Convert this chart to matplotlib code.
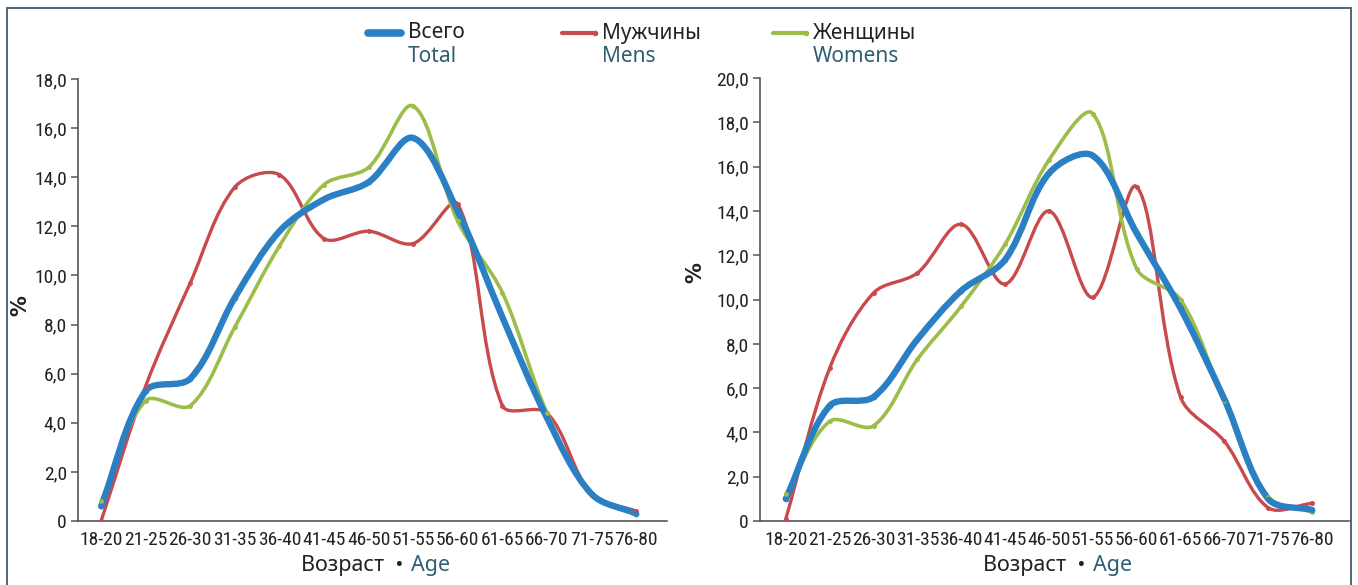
import numpy as np
import matplotlib
matplotlib.use("Agg")
import matplotlib.pyplot as plt
from matplotlib import font_manager
from matplotlib.path import Path
from matplotlib.patches import PathPatch, Rectangle
from matplotlib.lines import Line2D
from matplotlib.ticker import FuncFormatter

# --- data ---
age_groups = ["18-20", "21-25", "26-30", "31-35", "36-40", "41-45", "46-50",
              "51-55", "56-60", "61-65", "66-70", "71-75", "76-80"]

left_total = [0.6, 5.3, 5.8, 9.1, 11.8, 13.1, 13.8, 15.6, 12.6, 8.3, 4.2, 1.1, 0.3]
left_mens = [0.0, 5.5, 9.7, 13.6, 14.1, 11.5, 11.8, 11.3, 12.9, 4.7, 4.4, 1.1, 0.4]
left_womens = [0.8, 4.9, 4.7, 7.9, 11.2, 13.7, 14.4, 16.9, 12.2, 9.3, 4.4, 1.1, 0.3]

right_total = [1.0, 5.2, 5.6, 8.2, 10.4, 11.8, 15.7, 16.5, 13.0, 9.6, 5.5, 1.0, 0.5]
right_mens = [0.1, 6.9, 10.3, 11.2, 13.4, 10.7, 14.0, 10.1, 15.1, 5.6, 3.6, 0.6, 0.8]
right_womens = [1.2, 4.5, 4.3, 7.3, 9.7, 12.5, 16.3, 18.4, 11.4, 10.0, 5.4, 1.1, 0.4]

BLUE = "#2b80c4"
RED = "#c84a4c"
GREEN = "#9cbd48"
TEAL = "#2f5d72"


def pick_font(cands):
    for c in cands:
        try:
            font_manager.findfont(font_manager.FontProperties(family=c),
                                  fallback_to_default=False)
            return c
        except Exception:
            pass
    return None


NARROW = pick_font(['Liberation Sans Narrow', 'DejaVu Sans Condensed',
                    'Roboto Condensed', 'Noto Sans Condensed', 'Open Sans Condensed'])
if NARROW:
    TICK_FAM, XT_SIZE, YT_SIZE = NARROW, 14, 14
else:
    TICK_FAM, XT_SIZE, YT_SIZE = 'Liberation Sans', 11.5, 13
TEXT_FAM = ['Noto Sans', 'DejaVu Sans']
plt.rcParams['font.family'] = [TICK_FAM, 'DejaVu Sans']


def smooth_path(x, y, sx, sy, k=1.0 / 3):
    # spline through the points, tangents scaled by neighbouring chord lengths
    # (done in pixel space so steep and flat segments don't overshoot)
    P = np.column_stack([np.asarray(x, float) * sx, np.asarray(y, float) * sy])
    n = len(P)
    L = np.hypot(*(P[1:] - P[:-1]).T)
    D = np.zeros_like(P)
    D[0] = P[1] - P[0]
    D[-1] = P[-1] - P[-2]
    D[1:-1] = P[2:] - P[:-2]
    verts = [P[0]]
    codes = [Path.MOVETO]
    for i in range(n - 1):
        fa = L[i] / (L[i - 1] + L[i]) if i > 0 else 1.0
        fb = L[i] / (L[i] + L[i + 1]) if i + 1 < n - 1 else 1.0
        c1 = P[i] + D[i] * fa * k
        c2 = P[i + 1] - D[i + 1] * fb * k
        verts += [c1, c2, P[i + 1]]
        codes += [Path.CURVE4] * 3
    verts = np.array(verts) / np.array([sx, sy])
    return Path(verts, codes)


def draw_series(ax, y, color, lw, ms):
    fig = ax.figure
    pos = ax.get_position()
    wpx = pos.width * fig.get_figwidth() * fig.dpi
    hpx = pos.height * fig.get_figheight() * fig.dpi
    x0, x1 = ax.get_xlim()
    y0, y1 = ax.get_ylim()
    sx, sy = wpx / (x1 - x0), hpx / (y1 - y0)
    x = np.arange(len(y))
    ax.add_patch(PathPatch(smooth_path(x, y, sx, sy), facecolor='none', edgecolor=color,
                           lw=lw, capstyle='round', joinstyle='round', zorder=3))
    ax.plot(x, y, linestyle='none', marker='o', ms=ms, color=color, zorder=4)


def fmt(v, pos):
    if abs(v) < 1e-9:
        return "0"
    return f"{v:.1f}".replace(".", ",")


def setup_axes(ax, ymax, xlim, ylab_pos):
    ax.set_xlim(*xlim)
    ax.set_ylim(0, ymax)
    ax.set_yticks(np.arange(0, ymax + 0.1, 2))
    ax.yaxis.set_major_formatter(FuncFormatter(fmt))
    ax.set_xticks(np.arange(len(age_groups)))
    ax.set_xticklabels(age_groups)
    for s in ['top', 'right']:
        ax.spines[s].set_visible(False)
    for s in ['left', 'bottom']:
        ax.spines[s].set_color('#555555')
        ax.spines[s].set_linewidth(1.2)
    ax.tick_params(axis='y', length=5, width=1.1, color='#555555', labelsize=YT_SIZE,
                   labelcolor='#222222', pad=3)
    ax.tick_params(axis='x', length=0, labelsize=XT_SIZE, labelcolor='#222222', pad=7)
    ax.set_ylabel('%', fontsize=15, fontweight='bold', color='#222222',
                  family=['DejaVu Sans'])
    ax.yaxis.set_label_coords(*ylab_pos)


def age_label(ax):
    t1 = ax.text(0.553, -0.1, 'Возраст  •', transform=ax.transAxes,
                 ha='right', va='center', fontsize=15.5, color='#222222',
                 family=TEXT_FAM)
    ax.annotate('Age', xy=(1, 0), xycoords=t1, xytext=(5, 0),
                textcoords='offset points', ha='left', va='bottom',
                fontsize=15.5, color=TEAL, family=TEXT_FAM)


fig = plt.figure(figsize=(13.58, 5.85), dpi=100)

ax1 = fig.add_axes([0.0574, 0.1094, 0.4337, 0.7556])
setup_axes(ax1, 18, (-0.52, 12.69), (-0.08, 0.487))
draw_series(ax1, left_mens, RED, 2.4, 2.5)
draw_series(ax1, left_womens, GREEN, 2.6, 2.5)
draw_series(ax1, left_total, BLUE, 4.6, 3)
age_label(ax1)

ax2 = fig.add_axes([0.5596, 0.1094, 0.4337, 0.757])
setup_axes(ax2, 20, (-0.59, 12.84), (-0.093, 0.56))
draw_series(ax2, right_mens, RED, 2.4, 2.5)
draw_series(ax2, right_womens, GREEN, 2.6, 2.5)
draw_series(ax2, right_total, BLUE, 4.6, 3)
age_label(ax2)

# legend drawn in figure coords
W, H = 1358.0, 585.0
legend_items = [
    (368, BLUE, 5.5, 'Всего', 'Total'),
    (562, RED, 3.0, 'Мужчины', 'Mens'),
    (773, GREEN, 3.0, 'Женщины', 'Womens'),
]
for x0, col, lw, ru, en in legend_items:
    fig.add_artist(Line2D([x0 / W, (x0 + 33) / W], [1 - 33 / H, 1 - 33 / H],
                          color=col, lw=lw, solid_capstyle='round',
                          marker='o', markevery=[1] if lw < 5 else [],
                          ms=3, transform=fig.transFigure))
    fig.text((x0 + 40) / W, 1 - 33 / H, ru, fontsize=15, color='#222222',
             va='center', ha='left', family=TEXT_FAM)
    fig.text((x0 + 40) / W, 1 - 56 / H, en, fontsize=15, color=TEAL,
             va='center', ha='left', family=TEXT_FAM)

# outer frame
fig.add_artist(Rectangle((7 / W, -0.02), (1351 - 7) / W, 1 - 8 / H + 0.02,
                         transform=fig.transFigure, fill=False,
                         edgecolor='#4d6672', lw=1.4))

fig.savefig('out.png', dpi=100)
